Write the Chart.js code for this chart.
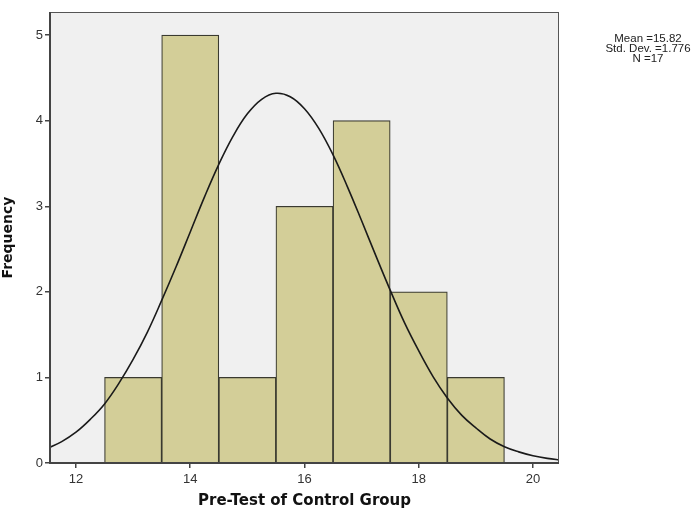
<!DOCTYPE html>
<html>
<head>
<meta charset="utf-8">
<script src="https://cdn.jsdelivr.net/npm/chart.js@4.4.0/dist/chart.umd.min.js"></script>
<style>
  html, body { margin: 0; padding: 0; background: #ffffff; }
  #wrap { width: 698px; height: 510px; position: relative; }
</style>
</head>
<body>
<div id="wrap"><canvas id="histChart" width="698" height="510"></canvas></div>
<script>
// histogram bins (midpoints) and counts
const binMids = [13, 14, 15, 16, 17, 18, 19];
const binCounts = [1, 5, 1, 3, 4, 2, 1];

// normal curve
const curveX = [11.5, 11.75, 12, 12.25, 12.5, 12.75, 13, 13.25, 13.5, 13.75, 14, 14.25, 14.5, 14.75,
    15, 15.25, 15.5, 15.75, 16, 16.25, 16.5, 16.75, 17, 17.25, 17.5, 17.75, 18, 18.25, 18.5, 18.75,
    19, 19.25, 19.5, 19.75, 20, 20.25, 20.5];
const curveY = [0.17, 0.25, 0.36, 0.51, 0.69, 0.93, 1.21, 1.53, 1.90, 2.29, 2.70, 3.11, 3.49, 3.82,
    4.08, 4.25, 4.32, 4.28, 4.14, 3.91, 3.60, 3.23, 2.83, 2.42, 2.02, 1.64, 1.31, 1.01, 0.76, 0.56,
    0.41, 0.28, 0.19, 0.13, 0.085, 0.054, 0.033];

const xTicks = [12, 14, 16, 18, 20];
const yTicks = [0, 1, 2, 3, 4, 5];
const statLines = ["Mean =15.82", "Std. Dev. =1.776", "N =17"];

const tickFont = { family: "Liberation Sans, Arial, sans-serif", size: 13 };

// grey plot background + frame, stats text on the right
const framePlugin = {
    id: "frame",
    beforeDatasetsDraw(chart) {
        const a = chart.chartArea;
        const ctx = chart.ctx;
        ctx.save();
        ctx.fillStyle = "#f0f0f0";
        ctx.fillRect(a.left, a.top, a.right - a.left, a.bottom - a.top);
        ctx.restore();
    },
    afterDraw(chart) {
        const a = chart.chartArea;
        const ctx = chart.ctx;
        ctx.save();
        ctx.strokeStyle = "#555";
        ctx.lineWidth = 1;
        ctx.strokeRect(a.left + 0.5, a.top + 0.5, a.right - a.left - 1, a.bottom - a.top - 1);
        ctx.strokeStyle = "#444";
        ctx.lineWidth = 2;
        ctx.beginPath();
        ctx.moveTo(a.left, a.top);
        ctx.lineTo(a.left, a.bottom);
        ctx.lineTo(a.right, a.bottom);
        ctx.stroke();

        ctx.fillStyle = "#222";
        ctx.font = "11.5px Liberation Sans, Arial, sans-serif";
        ctx.textAlign = "center";
        ctx.textBaseline = "middle";
        for (let i = 0; i < statLines.length; i++) {
            ctx.fillText(statLines[i], 648, 39 + i * 10);
        }
        ctx.restore();
    }
};

new Chart(document.getElementById("histChart"), {
    type: "bar",
    data: {
        datasets: [{
            type: "line",
            data: curveX.map((x, i) => ({ x: x, y: curveY[i] })),
            borderColor: "#1a1a1a",
            borderWidth: 1.6,
            pointRadius: 0,
            tension: 0.4,
            fill: false,
            order: 0
        }, {
            type: "bar",
            data: binMids.map((x, i) => ({ x: x, y: binCounts[i] })),
            backgroundColor: "#d3ce98",
            borderColor: "#3a3a30",
            borderWidth: 1.2,
            categoryPercentage: 1,
            barPercentage: 1,
            grouped: false,
            order: 1
        }]
    },
    options: {
        responsive: false,
        animation: false,
        layout: { padding: { left: 0, top: 12, right: 139, bottom: 0 } },
        plugins: {
            legend: { display: false },
            tooltip: { enabled: false }
        },
        scales: {
            x: {
                type: "linear",
                offset: false,
                min: 11.545,
                max: 20.455,
                afterBuildTicks: (scale) => { scale.ticks = xTicks.map(v => ({ value: v })); },
                afterFit: (scale) => { scale.height = 47; },
                border: { display: false },
                grid: { display: true, offset: false, drawOnChartArea: false, drawTicks: true, tickLength: 5, color: "#444", lineWidth: 1.5 },
                ticks: { color: "#333", font: tickFont, padding: 4, maxRotation: 0 },
                title: {
                    display: true,
                    text: "Pre-Test of Control Group",
                    color: "#111",
                    font: { family: "DejaVu Sans, Verdana, sans-serif", size: 15, weight: "bold" },
                    padding: { top: 6, bottom: 0 }
                }
            },
            y: {
                min: 0,
                max: 5.27,
                afterBuildTicks: (scale) => { scale.ticks = yTicks.map(v => ({ value: v })); },
                afterFit: (scale) => { scale.width = 50; },
                border: { display: false },
                grid: { display: true, drawOnChartArea: false, drawTicks: true, tickLength: 5, color: "#444", lineWidth: 1.5 },
                ticks: { color: "#333", font: tickFont, padding: 2 },
                title: {
                    display: true,
                    text: "Frequency",
                    color: "#111",
                    font: { family: "DejaVu Sans, Verdana, sans-serif", size: 14, weight: "bold" },
                    padding: { top: 0, bottom: 4 }
                }
            }
        }
    },
    plugins: [framePlugin]
});
</script>
</body>
</html>
